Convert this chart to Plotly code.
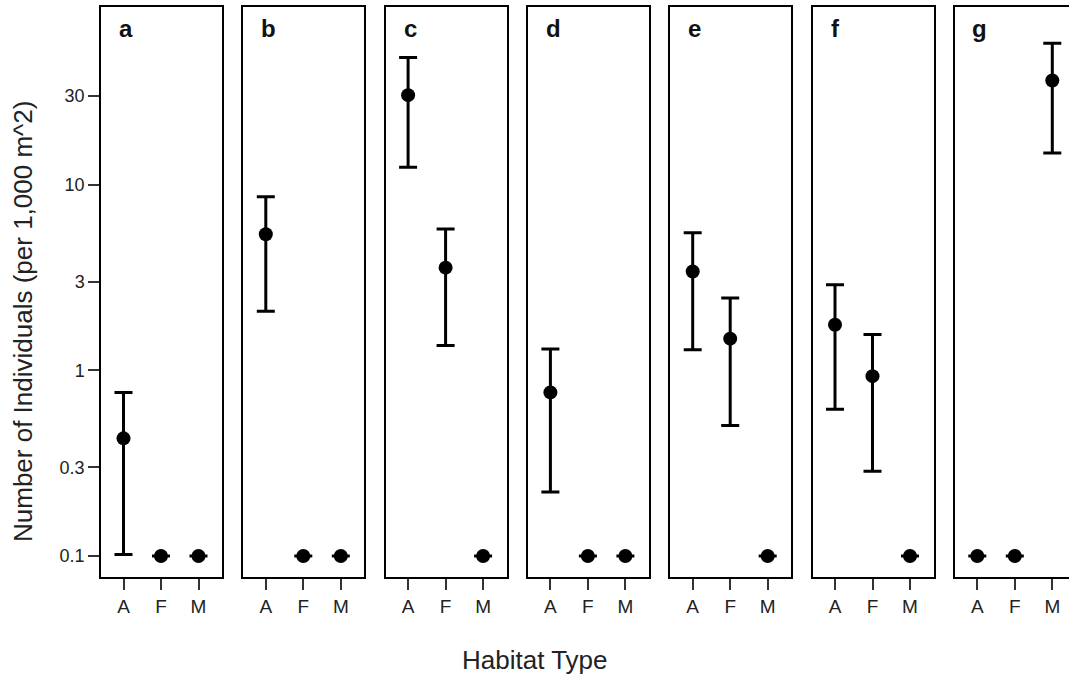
import plotly.graph_objects as go

# Habitat categories and panel letters
habitats = ["A", "F", "M"]
panels = ["a", "b", "c", "d", "e", "f", "g"]

# Mean density (per 1,000 m^2) and interval bounds for each panel, by habitat
means = {
    "a": [0.43, 0.1, 0.1],
    "b": [5.4, 0.1, 0.1],
    "c": [30.3, 3.57, 0.1],
    "d": [0.76, 0.1, 0.1],
    "e": [3.4, 1.48, 0.1],
    "f": [1.76, 0.93, 0.1],
    "g": [0.1, 0.1, 36.3],
}
upper = {
    "a": [0.76, 0.1, 0.1],
    "b": [8.6, 0.1, 0.1],
    "c": [48.3, 5.77, 0.1],
    "d": [1.30, 0.1, 0.1],
    "e": [5.5, 2.45, 0.1],
    "f": [2.89, 1.56, 0.1],
    "g": [0.1, 0.1, 57.7],
}
lower = {
    "a": [0.102, 0.1, 0.1],
    "b": [2.08, 0.1, 0.1],
    "c": [12.4, 1.36, 0.1],
    "d": [0.221, 0.1, 0.1],
    "e": [1.29, 0.504, 0.1],
    "f": [0.616, 0.286, 0.1],
    "g": [0.1, 0.1, 14.8],
}

# Y axis tick values and labels
y_ticks = [0.1, 0.3, 1, 3, 10, 30]
y_tick_text = ["0.1", "0.3", "1", "3", "10", "30"]

W, H = 1069, 677
FONT = "Liberation Sans, Arial, sans-serif"

# Panel layout in pixels
left0, step, pw = 101.0, 142.3, 121.0
top_px, bot_px = 7.0, 577.0
px_per_unit = 37.5
x_lo = 0.4

fig = go.Figure()
layout = {}
annotations = []

for i, p in enumerate(panels):
    n = "" if i == 0 else str(i + 1)
    left = left0 + step * i
    right = left + pw
    x_hi = x_lo + pw / px_per_unit
    clipped = right > W
    if clipped:
        x_hi -= (right - W) / px_per_unit
        right = W
    xs = [1, 2, 3]
    m = means[p]
    up = [u - v for u, v in zip(upper[p], m)]
    dn = [v - l for v, l in zip(m, lower[p])]
    fig.add_trace(go.Scatter(
        x=xs, y=m, mode="markers",
        marker=dict(color="black", size=14, symbol="circle"),
        error_y=dict(type="data", symmetric=False, array=up, arrayminus=dn,
                     color="black", thickness=3, width=9),
        xaxis="x" + n, yaxis="y" + n, showlegend=False, cliponaxis=False,
    ))
    layout["xaxis" + n] = dict(
        domain=[left / W, right / W], range=[x_lo, x_hi],
        tickvals=xs, ticktext=habitats, ticks="outside", ticklen=11,
        tickwidth=1.5, tickcolor="#333", showline=True, linecolor="black",
        linewidth=2, mirror=True, showgrid=False, zeroline=False,
        tickfont=dict(family=FONT, size=19, color="#222"), anchor="y" + n,
        automargin=False, fixedrange=True,
    )
    layout["yaxis" + n] = dict(
        domain=[1 - bot_px / H, 1 - top_px / H], type="log",
        range=[-1.113, 1.956], showline=True, linecolor="black",
        linewidth=1.5, mirror=not clipped, showgrid=False, zeroline=False,
        tickvals=y_ticks, ticktext=y_tick_text,
        ticks="outside" if i == 0 else "", ticklen=11, tickwidth=1.5,
        tickcolor="#333", showticklabels=(i == 0),
        tickfont=dict(family=FONT, size=18, color="#222"),
        anchor="x" + n, automargin=False, fixedrange=True,
    )
    annotations.append(dict(
        text="<b>%s</b>" % p, xref="x%s domain" % n, yref="y%s domain" % n,
        x=16 / pw, y=1 - 22 / (bot_px - top_px), xanchor="left",
        yanchor="middle", showarrow=False,
        font=dict(family=FONT, size=24, color="#111"),
    ))

annotations.append(dict(
    text="Habitat Type", xref="paper", yref="paper", x=534.5 / W,
    y=1 - 660 / H, xanchor="center", yanchor="middle", showarrow=False,
    font=dict(family=FONT, size=26, color="#222"),
))
annotations.append(dict(
    text="Number of Individuals (per 1,000 m^2)", xref="paper", yref="paper",
    x=23 / W, y=1 - 322 / H, xanchor="center", yanchor="middle",
    textangle=-90, showarrow=False,
    font=dict(family=FONT, size=26, color="#222"),
))

fig.update_layout(
    width=W, height=H, margin=dict(l=0, r=0, t=0, b=0),
    paper_bgcolor="white", plot_bgcolor="white",
    annotations=annotations, **layout,
)

fig.write_html("out.html")
